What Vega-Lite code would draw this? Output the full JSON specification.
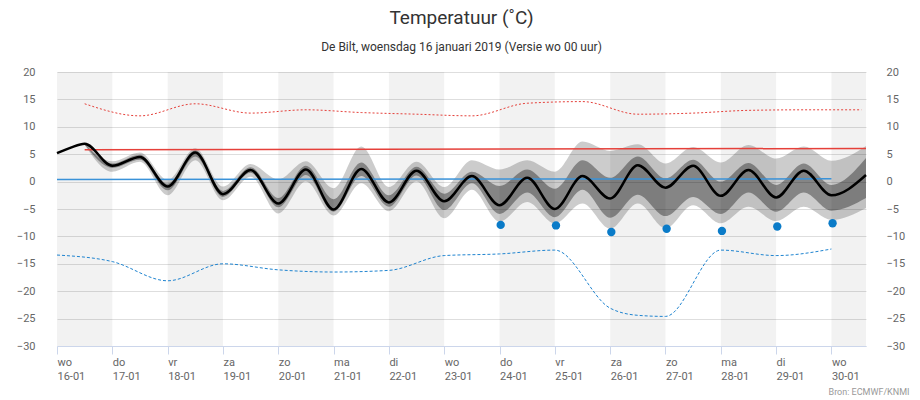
{
  "$schema": "https://vega.github.io/schema/vega-lite/v6.json",
  "width": 809,
  "height": 274,
  "autosize": "none",
  "padding": {"left": 57, "top": 72, "right": 54, "bottom": 54},
  "background": "white",
  "title": {
    "text": "Temperatuur (˚C)",
    "subtitle": "De Bilt, woensdag 16 januari 2019 (Versie wo 00 uur)",
    "anchor": "middle",
    "font": "Roboto",
    "fontSize": 19,
    "fontWeight": "normal",
    "color": "#333333",
    "subtitleFont": "Roboto",
    "subtitleFontSize": 12,
    "subtitleColor": "#333333",
    "subtitlePadding": 14,
    "offset": 13
  },
  "datasets": {
    "days": [
      {"t": "2019-01-16T00:00", "t2": "2019-01-17T00:00"},
      {"t": "2019-01-18T00:00", "t2": "2019-01-19T00:00"},
      {"t": "2019-01-20T00:00", "t2": "2019-01-21T00:00"},
      {"t": "2019-01-22T00:00", "t2": "2019-01-23T00:00"},
      {"t": "2019-01-24T00:00", "t2": "2019-01-25T00:00"},
      {"t": "2019-01-26T00:00", "t2": "2019-01-27T00:00"},
      {"t": "2019-01-28T00:00", "t2": "2019-01-29T00:00"},
      {"t": "2019-01-30T00:00", "t2": "2019-01-30T15:00"}
    ],
    "ensemble": [
      {"t": "2019-01-16T00:00", "mean": 5.2, "l1": null, "d1": null, "d2": null, "l2": null},
      {"t": "2019-01-16T06:00", "mean": 6.2, "l1": null, "d1": null, "d2": null, "l2": null},
      {"t": "2019-01-16T12:00", "mean": 6.9, "l1": 6.7, "d1": 6.8, "d2": 7.0, "l2": 7.1},
      {"t": "2019-01-17T00:00", "mean": 2.9, "l1": 1.8, "d1": 2.5, "d2": 3.3, "l2": 3.7},
      {"t": "2019-01-17T12:00", "mean": 4.5, "l1": 3.6, "d1": 4.0, "d2": 4.9, "l2": 5.3},
      {"t": "2019-01-18T00:00", "mean": -0.9, "l1": -2.5, "d1": -1.6, "d2": -0.4, "l2": 0.3},
      {"t": "2019-01-18T12:00", "mean": 5.3, "l1": 3.9, "d1": 4.6, "d2": 5.7, "l2": 6.1},
      {"t": "2019-01-19T00:00", "mean": -2.3, "l1": -3.4, "d1": -2.8, "d2": -1.7, "l2": -0.9},
      {"t": "2019-01-19T12:00", "mean": 2.1, "l1": 0.9, "d1": 1.6, "d2": 2.6, "l2": 3.2},
      {"t": "2019-01-20T00:00", "mean": -4.0, "l1": -5.8, "d1": -4.7, "d2": -3.0, "l2": 0.4},
      {"t": "2019-01-20T12:00", "mean": 2.2, "l1": 0.0, "d1": 1.2, "d2": 2.9, "l2": 3.7},
      {"t": "2019-01-21T00:00", "mean": -5.1, "l1": -6.2, "d1": -5.5, "d2": -3.2, "l2": -1.2},
      {"t": "2019-01-21T12:00", "mean": 2.3, "l1": -0.3, "d1": 1.0, "d2": 3.5, "l2": 6.4},
      {"t": "2019-01-22T00:00", "mean": -3.8, "l1": -5.4, "d1": -4.6, "d2": -2.5, "l2": -1.0},
      {"t": "2019-01-22T12:00", "mean": 2.0, "l1": 0.0, "d1": 1.1, "d2": 2.7, "l2": 3.6},
      {"t": "2019-01-23T00:00", "mean": -3.6, "l1": -6.7, "d1": -5.2, "d2": -2.2, "l2": -1.0},
      {"t": "2019-01-23T12:00", "mean": 1.0, "l1": -1.5, "d1": -0.3, "d2": 1.8, "l2": 3.9},
      {"t": "2019-01-24T00:00", "mean": -4.3, "l1": -7.3, "d1": -5.9, "d2": -0.8, "l2": 2.2},
      {"t": "2019-01-24T12:00", "mean": 0.7, "l1": -3.7, "d1": -2.0, "d2": 2.2, "l2": 3.9},
      {"t": "2019-01-25T00:00", "mean": -5.0, "l1": -7.6, "d1": -6.5, "d2": -1.3, "l2": 1.8},
      {"t": "2019-01-25T12:00", "mean": 1.0, "l1": -4.0, "d1": -1.5, "d2": 3.9, "l2": 7.3},
      {"t": "2019-01-26T00:00", "mean": -3.1, "l1": -8.6, "d1": -6.6, "d2": 0.7, "l2": 5.6},
      {"t": "2019-01-26T12:00", "mean": 3.0, "l1": -4.0, "d1": -2.4, "d2": 4.6, "l2": 6.8},
      {"t": "2019-01-27T00:00", "mean": -1.1, "l1": -8.5, "d1": -6.3, "d2": 0.6, "l2": 3.3},
      {"t": "2019-01-27T12:00", "mean": 2.9, "l1": -4.3, "d1": -2.8, "d2": 4.0, "l2": 6.3},
      {"t": "2019-01-28T00:00", "mean": -2.6, "l1": -7.6, "d1": -5.9, "d2": 0.0, "l2": 3.5},
      {"t": "2019-01-28T12:00", "mean": 2.1, "l1": -4.6, "d1": -2.0, "d2": 3.4, "l2": 6.7},
      {"t": "2019-01-29T00:00", "mean": -2.9, "l1": -7.2, "d1": -5.5, "d2": -0.6, "l2": 4.2},
      {"t": "2019-01-29T12:00", "mean": 2.0, "l1": -4.6, "d1": -2.0, "d2": 3.3, "l2": 6.4},
      {"t": "2019-01-30T00:00", "mean": -2.5, "l1": -7.0, "d1": -5.3, "d2": -0.6, "l2": 3.8},
      {"t": "2019-01-30T15:00", "mean": 1.2, "l1": -4.8, "d1": -3.0, "d2": 4.3, "l2": 6.5}
    ],
    "normmax": [
      {"t": "2019-01-16T12:00", "v": 5.8},
      {"t": "2019-01-30T15:00", "v": 6.05}
    ],
    "normmin": [
      {"t": "2019-01-16T00:00", "v": 0.4},
      {"t": "2019-01-30T00:00", "v": 0.5}
    ],
    "recmax": [
      {"t": "2019-01-16T12:00", "v": 14.2},
      {"t": "2019-01-17T12:00", "v": 12.0},
      {"t": "2019-01-18T12:00", "v": 14.2},
      {"t": "2019-01-19T12:00", "v": 12.5},
      {"t": "2019-01-20T12:00", "v": 13.1},
      {"t": "2019-01-21T12:00", "v": 12.6},
      {"t": "2019-01-22T12:00", "v": 12.3},
      {"t": "2019-01-23T12:00", "v": 12.0},
      {"t": "2019-01-24T12:00", "v": 14.3},
      {"t": "2019-01-25T12:00", "v": 14.6},
      {"t": "2019-01-26T12:00", "v": 12.3},
      {"t": "2019-01-27T12:00", "v": 12.5},
      {"t": "2019-01-28T12:00", "v": 13.0},
      {"t": "2019-01-29T12:00", "v": 13.1},
      {"t": "2019-01-30T13:00", "v": 13.1}
    ],
    "recmin": [
      {"t": "2019-01-16T00:00", "v": -13.4},
      {"t": "2019-01-17T00:00", "v": -14.6},
      {"t": "2019-01-18T00:00", "v": -18.1},
      {"t": "2019-01-19T00:00", "v": -15.0},
      {"t": "2019-01-20T00:00", "v": -16.1},
      {"t": "2019-01-21T00:00", "v": -16.5},
      {"t": "2019-01-22T00:00", "v": -16.2},
      {"t": "2019-01-23T00:00", "v": -13.5},
      {"t": "2019-01-24T00:00", "v": -13.2},
      {"t": "2019-01-25T00:00", "v": -12.5},
      {"t": "2019-01-26T00:00", "v": -23.1},
      {"t": "2019-01-26T12:00", "v": -24.4},
      {"t": "2019-01-27T00:00", "v": -24.6},
      {"t": "2019-01-28T00:00", "v": -12.5},
      {"t": "2019-01-29T00:00", "v": -13.5},
      {"t": "2019-01-30T00:00", "v": -12.3}
    ],
    "lowest": [
      {"t": "2019-01-24T00:30", "v": -7.9},
      {"t": "2019-01-25T00:30", "v": -8.0},
      {"t": "2019-01-26T00:30", "v": -9.2},
      {"t": "2019-01-27T00:30", "v": -8.6},
      {"t": "2019-01-28T00:30", "v": -9.0},
      {"t": "2019-01-29T00:30", "v": -8.2},
      {"t": "2019-01-30T00:30", "v": -7.6}
    ]
  },
  "encoding": {
    "x": {
      "field": "t",
      "type": "temporal",
      "scale": {
        "domain": [
          {"year": 2019, "month": 1, "date": 16, "hours": 0},
          {"year": 2019, "month": 1, "date": 30, "hours": 15}
        ],
        "nice": false
      },
      "axis": {
        "tickCount": {"interval": "day", "step": 1},
        "grid": false,
        "domainColor": "#ccd6eb",
        "tickColor": "#ccd6eb",
        "tickSize": 8,
        "labelAlign": "left",
        "labelBaseline": "top",
        "labelPadding": 2,
        "labelLineHeight": 14,
        "labelFont": "Roboto",
        "labelFontSize": 11,
        "labelColor": "#666666",
        "labelOverlap": false,
        "labelFlush": false,
        "labelExpr": "[['zo','ma','di','wo','do','vr','za'][day(datum.value)], timeFormat(datum.value, '%d-%m')]",
        "title": "Bron: ECMWF/KNMI",
        "titleFont": "Roboto",
        "titleFontSize": 9,
        "titleFontWeight": "normal",
        "titleColor": "#999999",
        "titleAlign": "right",
        "titleBaseline": "alphabetic",
        "titleX": 852,
        "titleY": 48
      }
    }
  },
  "layer": [
    {
      "data": {"name": "days"},
      "mark": {"type": "rect", "color": "#000000", "opacity": 0.05},
      "encoding": {"x2": {"field": "t2"}}
    },
    {
      "data": {"name": "ensemble"},
      "mark": {"type": "area", "interpolate": "monotone", "color": "#000000", "opacity": 0.2},
      "encoding": {
        "y": {
          "field": "l1",
          "type": "quantitative",
          "scale": {"domain": [-30, 20], "nice": false, "zero": false},
          "axis": {
            "orient": "left",
            "values": [-30, -25, -20, -15, -10, -5, 0, 5, 10, 15, 20],
            "grid": true,
            "gridColor": "#dedede",
            "domain": false,
            "ticks": false,
            "labelPadding": 22,
            "labelFont": "Roboto",
            "labelFontSize": 11,
            "labelColor": "#666666",
            "title": null
          }
        },
        "y2": {"field": "l2"}
      }
    },
    {
      "data": {"name": "ensemble"},
      "mark": {"type": "area", "interpolate": "monotone", "color": "#000000", "opacity": 0.35},
      "encoding": {
        "y": {"field": "d1", "type": "quantitative", "scale": {"domain": [-30, 20], "nice": false, "zero": false}, "axis": null},
        "y2": {"field": "d2"}
      }
    },
    {
      "data": {"name": "recmin"},
      "mark": {"type": "line", "interpolate": "monotone", "color": "#1f84d0", "strokeWidth": 1, "strokeDash": [3, 2]},
      "encoding": {
        "y": {"field": "v", "type": "quantitative", "scale": {"domain": [-30, 20], "nice": false, "zero": false}, "axis": null}
      }
    },
    {
      "data": {"name": "recmax"},
      "mark": {"type": "line", "interpolate": "monotone", "color": "#e5403a", "strokeWidth": 1, "strokeDash": [2, 2]},
      "encoding": {
        "y": {"field": "v", "type": "quantitative", "scale": {"domain": [-30, 20], "nice": false, "zero": false}, "axis": null}
      }
    },
    {
      "data": {"name": "normmax"},
      "mark": {"type": "line", "color": "#e5403a", "strokeWidth": 1.5},
      "encoding": {
        "y": {"field": "v", "type": "quantitative", "scale": {"domain": [-30, 20], "nice": false, "zero": false}, "axis": null}
      }
    },
    {
      "data": {"name": "normmin"},
      "mark": {"type": "line", "color": "#3a92d8", "strokeWidth": 1.5},
      "encoding": {
        "y": {"field": "v", "type": "quantitative", "scale": {"domain": [-30, 20], "nice": false, "zero": false}, "axis": null}
      }
    },
    {
      "data": {"name": "ensemble"},
      "mark": {"type": "line", "interpolate": "monotone", "color": "#000000", "strokeWidth": 2.5},
      "encoding": {
        "y": {
          "field": "mean",
          "type": "quantitative",
          "scale": {"domain": [-30, 20], "nice": false, "zero": false},
          "axis": {
            "orient": "right",
            "values": [-30, -25, -20, -15, -10, -5, 0, 5, 10, 15, 20],
            "grid": false,
            "domain": false,
            "ticks": false,
            "labelPadding": 20,
            "labelFont": "Roboto",
            "labelFontSize": 11,
            "labelColor": "#666666",
            "title": null
          }
        }
      }
    },
    {
      "data": {"name": "lowest"},
      "mark": {"type": "point", "filled": true, "color": "#0a7bc8", "opacity": 1, "size": 70},
      "encoding": {
        "y": {"field": "v", "type": "quantitative", "scale": {"domain": [-30, 20], "nice": false, "zero": false}, "axis": null}
      }
    }
  ],
  "resolve": {"axis": {"y": "independent"}},
  "config": {"view": {"stroke": null}}
}
